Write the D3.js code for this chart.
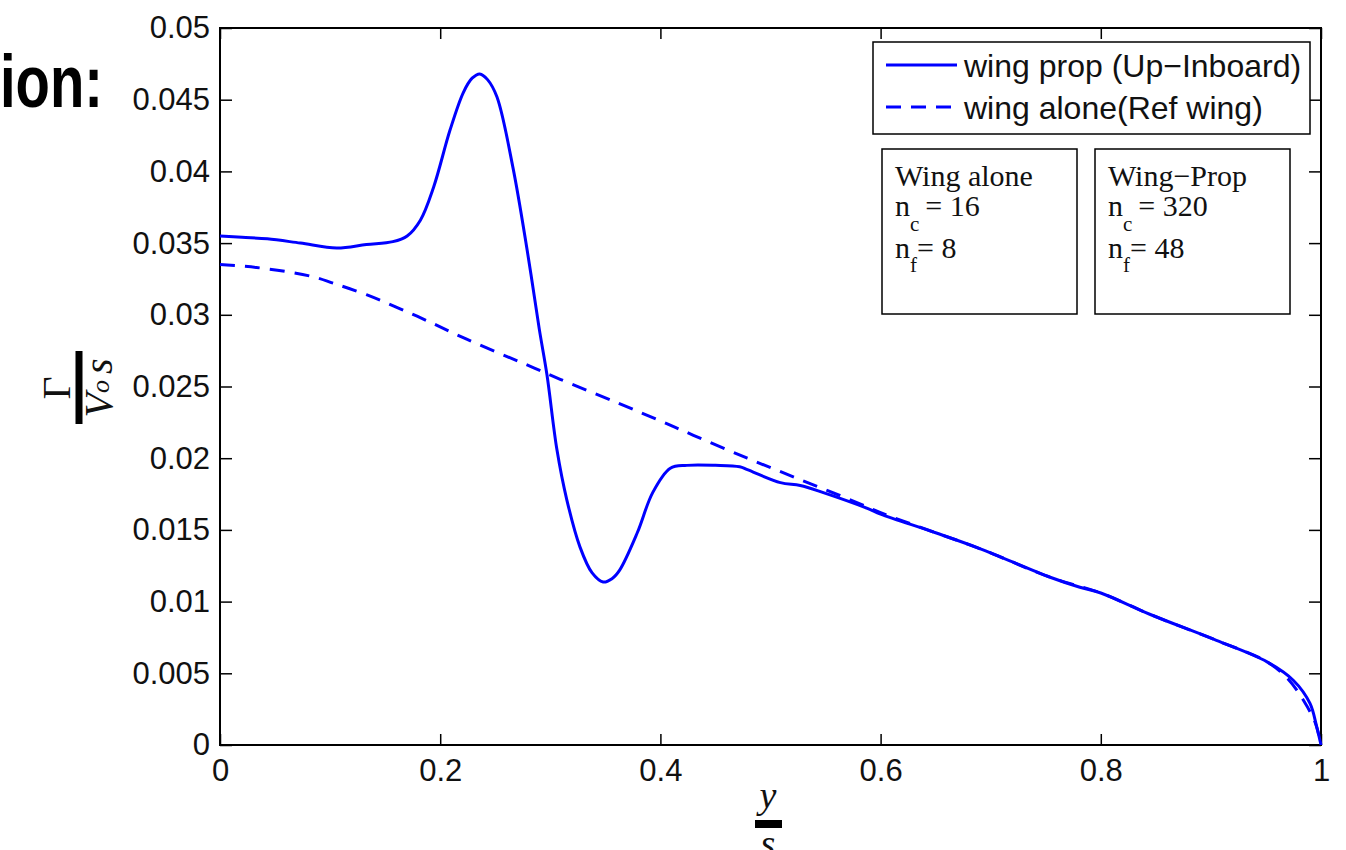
<!DOCTYPE html>
<html>
<head>
<meta charset="utf-8">
<script src="https://cdn.jsdelivr.net/npm/d3@7"></script>
<style>
  html, body { margin: 0; padding: 0; background: #fff; }
  svg { display: block; }
</style>
</head>
<body>
<script>
// ---- data ----
const propX = [0, 0.02, 0.043, 0.073, 0.106, 0.133, 0.157, 0.17, 0.182, 0.194, 0.209, 0.221, 0.229, 0.236, 0.243, 0.2515, 0.266, 0.279, 0.29, 0.297, 0.306, 0.315, 0.327, 0.338, 0.348, 0.356, 0.363, 0.379, 0.393, 0.409, 0.424, 0.45, 0.472, 0.479, 0.509, 0.527, 0.548, 0.588, 0.6, 0.65, 0.69, 0.754, 0.781, 0.8, 0.845, 0.905, 0.951, 0.975, 0.99, 0.996, 1.0];
const propY = [0.0355, 0.0354, 0.0353, 0.035, 0.03466, 0.0349, 0.0351, 0.0355, 0.0366, 0.0389, 0.0429, 0.0455, 0.0465, 0.0468, 0.0464, 0.0452, 0.0403, 0.0345, 0.029, 0.0258, 0.0206, 0.0171, 0.0138, 0.0120, 0.01137, 0.0116, 0.0122, 0.0148, 0.0176, 0.0193, 0.0195, 0.0195, 0.0194, 0.0192, 0.0183, 0.0181, 0.0176, 0.0165, 0.0161, 0.0148, 0.0137, 0.0117, 0.0110, 0.0106, 0.0091, 0.0073, 0.0058, 0.0045, 0.0029, 0.0013, 0.0];
const aloneX = [0, 0.033, 0.082, 0.103, 0.133, 0.179, 0.224, 0.285, 0.309, 0.36, 0.4, 0.43, 0.479, 0.524, 0.563, 0.588, 0.6, 0.65, 0.69, 0.754, 0.8, 0.845, 0.905, 0.951, 0.97, 0.985, 0.995, 1.0];
const aloneY = [0.0335, 0.0333, 0.0327, 0.0322, 0.0314, 0.0299, 0.0283, 0.0263, 0.0255, 0.0239, 0.0226, 0.0216, 0.0200, 0.0186, 0.0174, 0.0166, 0.0162, 0.0148, 0.0137, 0.0117, 0.0106, 0.0091, 0.0073, 0.0058, 0.0046, 0.0030, 0.0015, 0.0];
const xTickValues = [0, 0.2, 0.4, 0.6, 0.8, 1];
const xTickLabels = ["0", "0.2", "0.4", "0.6", "0.8", "1"];
const yTickValues = [0, 0.005, 0.01, 0.015, 0.02, 0.025, 0.03, 0.035, 0.04, 0.045, 0.05];
const yTickLabels = ["0", "0.005", "0.01", "0.015", "0.02", "0.025", "0.03", "0.035", "0.04", "0.045", "0.05"];
const seriesNames = ["wing prop (Up\u2212Inboard)", "wing alone(Ref wing)"];

// ---- layout ----
const W = 1346, H = 850;
const L = 220, R = 1321, T = 28, B = 745;
const svg = d3.select("body").append("svg").attr("width", W).attr("height", H);

const x = d3.scaleLinear().domain([0, 1]).range([L, R]);
const y = d3.scaleLinear().domain([0, 0.05]).range([B, T]);

const sans = "'Liberation Sans', Arial, Helvetica, sans-serif";
const serif = "'Liberation Serif', 'Times New Roman', serif";
const tickFont = 31;

// heading fragment
svg.append("g").attr("transform", "translate(103,107) scale(0.75,1)")
  .append("text").attr("text-anchor", "end")
  .attr("font-family", sans).attr("font-weight", "bold").attr("font-size", 75)
  .attr("fill", "#000").text("ion:");

// axes
function styleAxis(g) {
  g.selectAll("path.domain").remove();
  g.selectAll(".tick line").attr("stroke", "#000").attr("stroke-width", 1.5);
  g.selectAll(".tick text").attr("font-family", sans).attr("font-size", tickFont).attr("fill", "#111");
}
svg.append("g").attr("transform", `translate(0,${B})`)
  .call(d3.axisBottom(x).tickValues(xTickValues).tickFormat((d, i) => xTickLabels[i]).tickSize(-11).tickPadding(14))
  .call(styleAxis)
  .selectAll(".tick text").attr("dy", "0.71em");
svg.append("g").attr("transform", `translate(0,${T})`)
  .call(d3.axisTop(x).tickValues(xTickValues).tickFormat("").tickSize(-11))
  .call(styleAxis);
svg.append("g").attr("transform", `translate(${L},0)`)
  .call(d3.axisLeft(y).tickValues(yTickValues).tickFormat((d, i) => yTickLabels[i]).tickSize(-12).tickPadding(10))
  .call(styleAxis);
svg.append("g").attr("transform", `translate(${R},0)`)
  .call(d3.axisRight(y).tickValues(yTickValues).tickFormat("").tickSize(-12))
  .call(styleAxis);

// frame
svg.append("rect").attr("x", L).attr("y", T).attr("width", R - L).attr("height", B - T)
  .attr("fill", "none").attr("stroke", "#000").attr("stroke-width", 2);

// lines
const line = d3.line().x(d => x(d[0])).y(d => y(d[1])).curve(d3.curveCatmullRom.alpha(0.5));
svg.append("path").datum(aloneX.map((v, i) => [v, aloneY[i]]))
  .attr("d", line).attr("fill", "none").attr("stroke", "#0000ff")
  .attr("stroke-width", 3).attr("stroke-dasharray", "15,10");
svg.append("path").datum(propX.map((v, i) => [v, propY[i]]))
  .attr("d", line).attr("fill", "none").attr("stroke", "#0000ff")
  .attr("stroke-width", 3).attr("stroke-linejoin", "round");

// legend
const lg = svg.append("g");
lg.append("rect").attr("x", 873).attr("y", 42).attr("width", 437).attr("height", 92)
  .attr("fill", "#fff").attr("stroke", "#000").attr("stroke-width", 1.5);
[[65, null], [107, "15,10"]].forEach((r, i) => {
  const ln = lg.append("line").attr("x1", 886).attr("x2", 957).attr("y1", r[0]).attr("y2", r[0])
    .attr("stroke", "#0000ff").attr("stroke-width", 3);
  if (r[1]) ln.attr("stroke-dasharray", r[1]);
  lg.append("text").attr("x", 964).attr("y", r[0] + 12).attr("font-family", sans)
    .attr("font-size", 32).attr("fill", "#111").text(seriesNames[i]);
});

// text boxes
function infoBox(x0, title, nc, nf) {
  const g = svg.append("g").attr("font-family", serif).attr("fill", "#111");
  g.append("rect").attr("x", x0).attr("y", 149).attr("width", 195).attr("height", 165)
    .attr("fill", "#fff").attr("stroke", "#000").attr("stroke-width", 1.5);
  g.append("text").attr("x", x0 + 13).attr("y", 186).attr("font-size", 30).text(title);
  const t1 = g.append("text").attr("x", x0 + 13).attr("y", 216).attr("font-size", 30);
  t1.append("tspan").text("n");
  t1.append("tspan").attr("font-size", 21).attr("dy", 15).text("c");
  t1.append("tspan").attr("dy", -15).attr("dx", 6).text("= " + nc);
  const t2 = g.append("text").attr("x", x0 + 13).attr("y", 258).attr("font-size", 30);
  t2.append("tspan").text("n");
  t2.append("tspan").attr("font-size", 21).attr("dy", 14).text("f");
  t2.append("tspan").attr("dy", -14).text("= " + nf);
}
infoBox(882, "Wing alone", "16", "8");
infoBox(1095, "Wing\u2212Prop", "320", "48");

// y-axis label: Gamma over V_o s (rotated)
const yl = svg.append("g").attr("transform", "translate(79,388) rotate(-90)")
  .attr("font-family", serif).attr("fill", "#111");
yl.append("rect").attr("x", -36).attr("y", -3.5).attr("width", 73).attr("height", 7).attr("fill", "#000");
yl.append("text").attr("x", 0).attr("y", -9).attr("text-anchor", "middle").attr("font-size", 40).text("\u0393");
const den = yl.append("text").attr("x", 0).attr("y", 33).attr("text-anchor", "middle").attr("font-size", 40).attr("font-style", "italic");
den.append("tspan").text("V");
den.append("tspan").attr("font-size", 26).attr("dy", -3).text("o");
den.append("tspan").attr("dy", 3).attr("dx", 6).text("s");

// x-axis label: y over s
const xl = svg.append("g").attr("font-family", serif).attr("font-style", "italic").attr("fill", "#111");
xl.append("rect").attr("x", 755).attr("y", 820).attr("width", 27).attr("height", 8).attr("fill", "#000");
xl.append("text").attr("x", 768).attr("y", 808).attr("text-anchor", "middle").attr("font-size", 38).text("y");
xl.append("text").attr("x", 768).attr("y", 856).attr("text-anchor", "middle").attr("font-size", 38).text("s");
</script>
</body>
</html>
